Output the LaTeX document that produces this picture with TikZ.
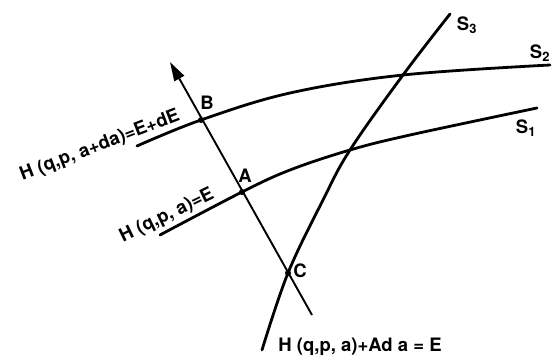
\documentclass[tikz,border=0pt]{standalone}
\usepackage{fontspec}
\setmainfont{TeX Gyre Heros}
\usetikzlibrary{arrows.meta}

\begin{document}
\begin{tikzpicture}[
    x=1pt, y=-1pt,
    every node/.style={font=\fontsize{18.5}{22}\selectfont\bfseries, inner sep=1pt},
    surface/.style={line width=2.8pt, line cap=round},
    normal/.style={line width=1.9pt, -{Triangle[length=19pt, width=11pt]}},
    dot/.style={circle, fill=black, inner sep=0pt, minimum size=6pt}
]
\useasboundingbox (0,0) rectangle (552,361);

% points where the normal meets the surfaces
\coordinate (B) at (201,120);
\coordinate (A) at (242,192);
\coordinate (C) at (288,273);
\coordinate (normtail) at (312,315);
\coordinate (normtip) at (170,62);

\draw[surface] plot[smooth, tension=0.6] coordinates {(137,146) (B) (290,93) (403,75) (550,65)};
\draw[surface] plot[smooth, tension=0.6] coordinates {(160,235) (A) (290,170) (350,150) (410,135) (537,108)};
\draw[surface] plot[smooth, tension=0.6] coordinates {(262,350) (C) (323,200) (350,150) (403,75) (450,14)};

\draw[normal] (normtail) -- (normtip);

\node[dot] (dotA) at (A) {};
\node[dot] (dotB) at (B) {};
\node[dot] (dotC) at (C) {};

\node (labB) at (207,103) {B};
\node (labA) at (245,176) {A};
\node (labC) at (300,271) {C};

\node (labS3) at (467,25) {S\textsubscript{3}};
\node (labS2) at (540,53) {S\textsubscript{2}};
\node (labS1) at (526,128) {S\textsubscript{1}};

\node[rotate=21] (eqS2) at (100,146) {H (q,p, a+da)=E+dE};
\node[rotate=26] (eqS1) at (167,216) {H (q,p, a)=E};
\node (eqS3) at (360,347) {H (q,p, a)+Ad a = E};

\end{tikzpicture}
\end{document}
